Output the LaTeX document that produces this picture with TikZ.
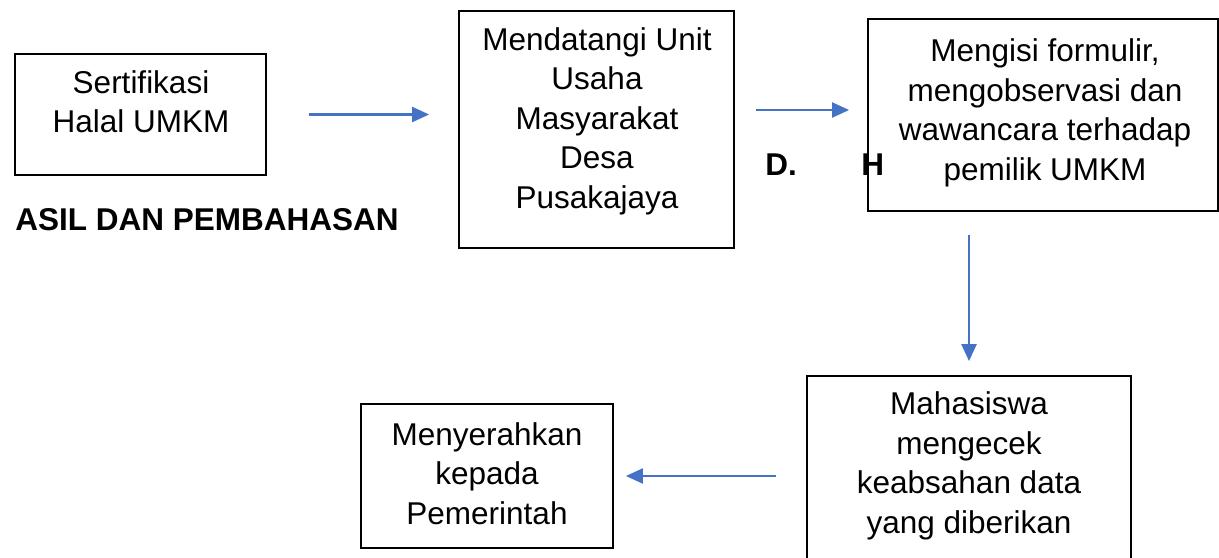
\documentclass[tikz,border=0pt]{standalone}
\usepackage{fontspec}
\setmainfont{Liberation Sans}
\usetikzlibrary{arrows.meta}
\definecolor{biru}{RGB}{68,114,196}
\tikzset{
  kotak/.style={draw=black, line width=0.9pt, inner sep=0pt},
  isi/.style={align=center, inner sep=0pt, font=\fontsize{15.75pt}{19.75pt}\selectfont},
  judul/.style={anchor=base west, inner sep=0pt, font=\fontsize{15.75pt}{19.75pt}\selectfont\bfseries},
  alur/.style={draw=biru, line width=1.1pt, -{Triangle[length=8.5pt,width=7.5pt]}}
}

\begin{document}
\begin{tikzpicture}[x=0.5pt,y=-0.5pt]
\useasboundingbox (0,0) rectangle (1219,557);
\clip (0,0) rectangle (1219,557);
\node[kotak, minimum width=125.5pt, minimum height=60.5pt] (b1) at (140.5,114.5) {};
\node[isi] (t1) at (141,101.5) {Sertifikasi\\Halal UMKM};
\node[kotak, minimum width=137.5pt, minimum height=118.5pt] (b2) at (596.5,129.5) {};
\node[isi] (t2) at (597,121) {Mendatangi Unit\\Usaha\\Masyarakat\\Desa\\Pusakajaya};
\node[kotak, minimum width=175pt, minimum height=96pt] (b3) at (1043,115) {};
\node[isi] (t3) at (1045,113) {Mengisi formulir,\\mengobservasi dan\\wawancara terhadap\\pemilik UMKM};
\node[kotak, minimum width=162pt, minimum height=112pt] (b4) at (969,488) {};
\node[isi] (t4) at (969,466) {Mahasiswa\\mengecek\\keabsahan data\\yang diberikan};
\node[kotak, minimum width=126pt, minimum height=72pt] (b5) at (487,476) {};
\node[isi] (t5) at (487,473.5) {Menyerahkan\\kepada\\Pemerintah};

\node[judul] (asil) at (15,230) {ASIL DAN PEMBAHASAN};
\node[judul] (d) at (765,175) {D.};
\node[judul] (h) at (861,175) {H};

\draw[alur, shorten <=21pt, shorten >=14.5pt] (b1.east) -- (b1.east -| b2.west);
\draw[alur, shorten <=10.5pt, shorten >=9pt] ([yshift=2.5pt]b3.west -| b2.east) -- ([yshift=2.5pt]b3.west);
\draw[alur, shorten <=11.5pt, shorten >=7pt] (b4.north |- b3.south) -- (b4.north);
\draw[alur, shorten <=15pt, shorten >=6pt] (b5.east -| b4.west) -- (b5.east);
\end{tikzpicture}
\end{document}
